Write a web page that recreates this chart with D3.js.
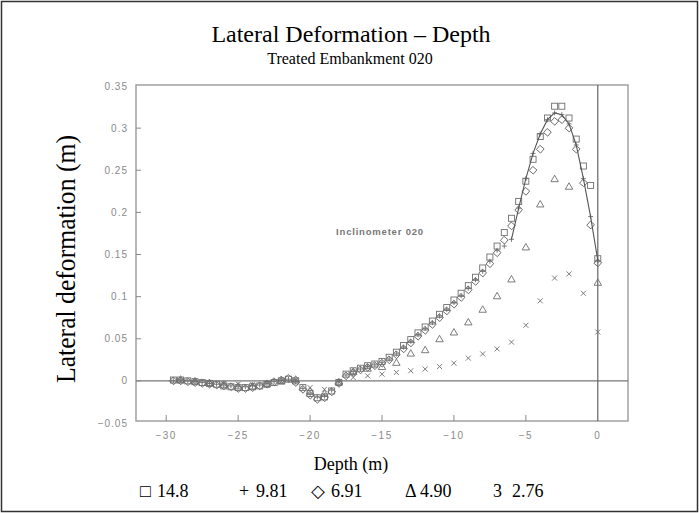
<!DOCTYPE html>
<html>
<head>
<meta charset="utf-8">
<script src="https://cdn.jsdelivr.net/npm/d3@7"></script>
<style>
  body { margin: 0; background: #fff; }
  svg { display: block; }
</style>
</head>
<body>
<svg id="chart" width="699" height="513"></svg>
<script>
// readings every 0.5 m (squares, diamonds, plus)
const depthFine = d3.range(-29.5, 0.01, 0.5);
const sq148 = [0.001, 0.001, 0.000, -0.001, -0.002, -0.003, -0.004, -0.006, -0.007, -0.008,
  -0.008, -0.007, -0.006, -0.004, -0.002, 0.000, 0.002, 0.000, -0.008, -0.015,
  -0.020, -0.019, -0.012, -0.002, 0.008, 0.012, 0.015, 0.018, 0.020, 0.023,
  0.028, 0.034, 0.042, 0.049, 0.057, 0.064, 0.071, 0.079, 0.087, 0.096,
  0.104, 0.113, 0.123, 0.134, 0.147, 0.160, 0.176, 0.193, 0.213, 0.237,
  0.263, 0.290, 0.312, 0.326, 0.326, 0.312, 0.287, 0.255, 0.232, 0.145];
const pl981 = [0.000, 0.001, 0.000, -0.001, -0.002, -0.003, -0.004, -0.005, -0.006, -0.007,
  -0.007, -0.006, -0.005, -0.003, -0.001, 0.001, 0.002, -0.001, -0.009, -0.016,
  -0.019, -0.018, -0.011, -0.001, 0.007, 0.011, 0.014, 0.017, 0.019, 0.022,
  0.026, 0.032, 0.040, 0.047, 0.055, 0.062, 0.069, 0.077, 0.085, 0.093,
  0.101, 0.110, 0.120, 0.130, 0.142, 0.155, 0.160, 0.168, 0.205, 0.240,
  0.270, 0.293, 0.310, 0.318, 0.316, 0.305, 0.280, 0.240, 0.195, 0.143];
const dm691 = [0.000, 0.000, -0.001, -0.002, -0.003, -0.004, -0.005, -0.006, -0.007, -0.009,
  -0.009, -0.008, -0.006, -0.004, -0.001, 0.001, 0.003, -0.002, -0.010, -0.017,
  -0.022, -0.020, -0.013, -0.003, 0.006, 0.010, 0.013, 0.016, 0.018, 0.021,
  0.025, 0.031, 0.038, 0.045, 0.053, 0.060, 0.067, 0.075, 0.083, 0.091,
  0.099, 0.108, 0.118, 0.128, 0.139, 0.152, 0.167, 0.184, 0.203, 0.225,
  0.250, 0.275, 0.295, 0.308, 0.310, 0.300, 0.275, 0.235, 0.185, 0.140];

// readings every 1 m (triangles, crosses)
const depthTri = [-29, -28, -27, -26, -25, -24, -23, -22, -21, -20, -19, -18, -17, -16, -15,
  -14, -13, -12, -11, -10, -9, -8, -7, -6, -5, -4, -3, -2, 0];
const tr490 = [0.001, -0.001, -0.003, -0.005, -0.007, -0.007, -0.004, -0.001, 0.001, -0.013,
  -0.016, -0.002, 0.010, 0.014, 0.016, 0.021, 0.032, 0.036, 0.049, 0.057,
  0.069, 0.084, 0.100, 0.120, 0.158, 0.209, 0.239, 0.230, 0.116];
const depthX = d3.range(-29, 0.01, 1);
const x276 = [0.000, 0.000, -0.002, -0.003, -0.004, -0.004, -0.003, -0.001, 0.001, -0.008,
  -0.010, -0.001, 0.004, 0.006, 0.008, 0.010, 0.012, 0.014, 0.017, 0.021,
  0.027, 0.032, 0.038, 0.046, 0.066, 0.095, 0.122, 0.127, 0.104, 0.058];

const xTicks = [-30, -25, -20, -15, -10, -5, 0];
const yTicks = [-0.05, 0, 0.05, 0.1, 0.15, 0.2, 0.25, 0.3, 0.35];
const legendSymbols = ["\u25A1", "+", "\u25C7", "\u0394", "3"];
const legendLabels = ["14.8", "9.81", "6.91", "4.90", "2.76"];

const svg = d3.select("#chart");
const plot = { left: 136, right: 628, top: 85, bottom: 421 };
const x = d3.scaleLinear().domain([-32.1, 2.1]).range([plot.left, plot.right]);
const y = d3.scaleLinear().domain([-0.05, 0.35]).range([423, 86]);
const grey = "#8a8a8a";
const mark = "#6e6e6e";
const serif = "'Liberation Serif', 'Times New Roman', serif";

// outer frame
svg.append("rect").attr("x", 1.5).attr("y", 1.5).attr("width", 696).attr("height", 510)
  .attr("fill", "none").attr("stroke", "#333").attr("stroke-width", 1.5);

// titles
svg.append("text").attr("x", 351).attr("y", 42).attr("text-anchor", "middle")
  .style("font", `24px ${serif}`).text("Lateral Deformation \u2013 Depth");
svg.append("text").attr("x", 350).attr("y", 64).attr("text-anchor", "middle")
  .style("font", `16px ${serif}`).text("Treated Embankment 020");

// plot box
svg.append("rect").attr("x", plot.left).attr("y", plot.top)
  .attr("width", plot.right - plot.left).attr("height", plot.bottom - plot.top)
  .attr("fill", "none").attr("stroke", "#9a9a9a").attr("stroke-width", 1.4);

// zero lines
svg.append("line").attr("x1", plot.left).attr("x2", plot.right).attr("y1", y(0)).attr("y2", y(0))
  .attr("stroke", "#777").attr("stroke-width", 1.2);
svg.append("line").attr("x1", x(0)).attr("x2", x(0)).attr("y1", plot.top).attr("y2", plot.bottom)
  .attr("stroke", "#666").attr("stroke-width", 1.2);

// ticks and tick labels
const tickFont = "10px 'Liberation Sans', Arial, sans-serif";
svg.append("g").selectAll("line").data(yTicks.slice(1, -1)).join("line")
  .attr("x1", plot.left).attr("x2", plot.left + 5).attr("y1", d => y(d)).attr("y2", d => y(d))
  .attr("stroke", grey);
svg.append("g").selectAll("text").data(yTicks).join("text")
  .attr("x", 128).attr("y", d => y(d) + 3.5).attr("text-anchor", "end")
  .attr("fill", grey).style("font", tickFont).style("letter-spacing", "1px")
  .text(d => d3.format("")(+d.toFixed(2)));
svg.append("g").selectAll("line").data(xTicks.slice(0, -1)).join("line")
  .attr("x1", d => x(d)).attr("x2", d => x(d)).attr("y1", plot.bottom).attr("y2", plot.bottom - 6)
  .attr("stroke", grey);
svg.append("g").selectAll("text").data(xTicks).join("text")
  .attr("x", d => x(d)).attr("y", 439).attr("text-anchor", "middle")
  .attr("fill", grey).style("font", tickFont).style("letter-spacing", "1.5px")
  .text(d => d < 0 ? "\u2212" + Math.abs(d) : d);

// inner annotation
svg.append("text").attr("x", 380).attr("y", 235).attr("text-anchor", "middle")
  .attr("fill", "#777").style("font", "bold 9.5px 'Liberation Sans', Arial, sans-serif")
  .style("letter-spacing", "0.8px").text("Inclinometer 020");

// markers
const g = svg.append("g").attr("fill", "none").attr("stroke", mark).attr("stroke-width", 0.9);
const pts = (xs, ys) => xs.map((d, i) => [d, ys[i]]);

g.selectAll(".sq").data(pts(depthFine, sq148)).join("rect").attr("class", "sq")
  .attr("x", d => x(d[0]) - 3).attr("y", d => y(d[1]) - 3).attr("width", 6).attr("height", 6);
g.selectAll(".dm").data(pts(depthFine, dm691)).join("path").attr("class", "dm")
  .attr("d", d3.symbol(d3.symbolSquare, 30))
  .attr("transform", d => `translate(${x(d[0])},${y(d[1])}) rotate(40)`);
g.selectAll(".pl").data(pts(depthFine, pl981)).join("path").attr("class", "pl")
  .attr("d", "M-2.5,0H2.5M0,-2.5V2.5")
  .attr("transform", d => `translate(${x(d[0])},${y(d[1])})`);
g.selectAll(".tr").data(pts(depthTri, tr490)).join("path").attr("class", "tr")
  .attr("d", d3.symbol(d3.symbolTriangle, 24))
  .attr("transform", d => `translate(${x(d[0])},${y(d[1])})`);
g.selectAll(".xx").data(pts(depthX, x276)).join("path").attr("class", "xx")
  .attr("d", "M-2.5,-2.5L2.5,2.5M-2.5,2.5L2.5,-2.5")
  .attr("transform", d => `translate(${x(d[0])},${y(d[1])})`);

// connecting line near the peak
const line = d3.line().x(d => x(d[0])).y(d => y(d[1]));
svg.append("path").datum(pts(depthFine, pl981).filter(d => d[0] >= -6))
  .attr("d", line).attr("fill", "none").attr("stroke", "#555").attr("stroke-width", 1.1);

// axis titles
svg.append("text").attr("transform", "translate(75,259) rotate(-90)").attr("text-anchor", "middle")
  .attr("textLength", 248).attr("lengthAdjust", "spacingAndGlyphs")
  .style("font", `27px ${serif}`).text("Lateral deformation (m)");
svg.append("text").attr("x", 351).attr("y", 470).attr("text-anchor", "middle")
  .style("font", `18px ${serif}`).text("Depth (m)");

// legend row
const symX = [140, 239, 311, 405, 493];
const labX = [157, 256, 331, 420, 512];
const lg = svg.append("g").style("font", `18px ${serif}`);
legendLabels.forEach((lab, i) => {
  lg.append("text").attr("x", symX[i]).attr("y", 497).text(legendSymbols[i]);
  lg.append("text").attr("x", labX[i]).attr("y", 497).text(lab);
});
</script>
</body>
</html>
